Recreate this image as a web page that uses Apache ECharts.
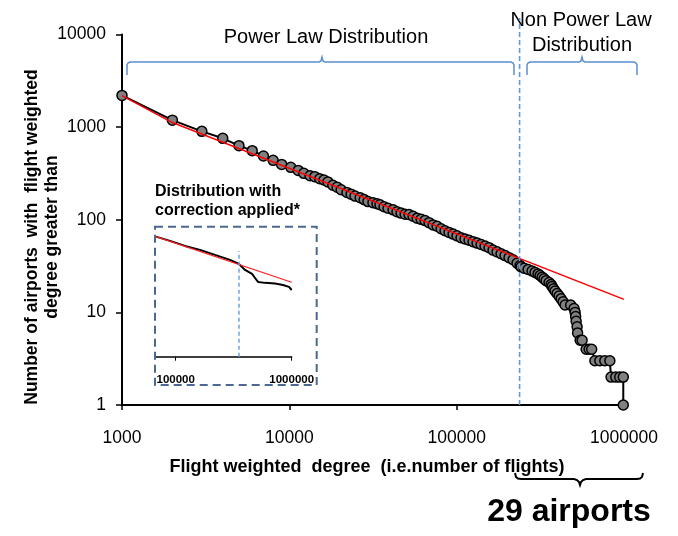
<!DOCTYPE html>
<html><head><meta charset="utf-8">
<script src="https://cdn.jsdelivr.net/npm/echarts@6/dist/echarts.min.js"></script>
<style>html,body{margin:0;padding:0;background:#fff}#c{width:678px;height:536px}</style>
</head><body><div id="c"></div>
<script>
// Main cumulative distribution: flight weighted degree vs number of airports with degree greater than it
const degree = [1000, 2000, 3000, 4000, 5000, 6000, 7000, 8000, 9000, 10200, 11300, 12200, 13300, 14200, 15200,
  16100, 17000, 18200, 19300, 20400, 22100, 23400, 24700, 26500, 28000,
  29500, 31600, 33400, 34800, 36800, 38900, 41700, 44000, 46500, 49200,
  51900, 54900, 58000, 61300, 64700, 68400, 72300, 76400, 80700, 85200,
  90100, 95200, 100500, 106200, 112200, 118600, 125300, 132400, 139900, 147800,
  156200, 165000, 174400, 184200, 194700, 205700, 217300, 229600, 239300,
  242700, 253000, 267300, 282300, 294200, 306600, 315100, 324000, 333000, 342300,
  356700, 366700, 371700, 379500, 387400, 398300, 409300, 420700, 432500, 444600,
  480000, 503000, 510500, 514000, 517600, 524500, 528000, 547000, 562000, 594000,
  619000, 641000, 670000, 717000, 768000, 823000, 837000, 893000, 943000, 990000, 990000];
const airports = [2200, 1190, 900, 757, 631, 557, 488, 438, 396, 368, 341, 317, 299, 292, 277,
  269, 256, 236, 225, 211, 197, 189, 180, 173, 165,
  157, 153, 149, 145, 138, 133, 128, 122, 118, 115,
  114, 109, 104, 101, 98, 93, 88, 85, 80, 76,
  73, 70, 67, 64, 62, 60, 58, 56, 54, 52,
  50, 47, 45, 43, 41, 39, 37, 34, 32,
  31, 30, 29, 28, 27, 26, 25, 24, 23, 22,
  21, 20, 19, 18, 17, 16, 15, 14, 13, 12,
  12, 11, 10, 9, 8, 7, 6, 5, 5, 4,
  4, 4, 3, 3, 3, 3, 2, 2, 2, 2, 1];
// Power-law fit line
const fitDegree = [1000, 2000, 1000000];
const fitAirports = [2190, 1120, 13.8];
// Boundary between power-law and non power-law parts
const cutoffDegree = 237700;

// Inset: distribution with correction applied
const insetDegree = [67600, 89300, 120300, 162000, 218000, 294000, 351000, 396000, 455000, 483000, 512000, 589000, 718000, 841000, 948000, 1000000];
const insetAirports = [697, 552, 420, 338, 257, 196, 157, 113, 91, 73, 59, 56, 54, 50, 45, 38];
const insetFitDegree = [67600, 1000000];
const insetFitAirports = [697, 58];
const insetCutoff = 351000;
const insetTicks = [100000, 1000000];

const FONT = 'Liberation Sans, Arial, sans-serif';
const pairs = (xs, ys) => xs.map((x, i) => [x, ys[i]]);

const chart = echarts.init(document.getElementById('c'), null, {renderer: 'canvas'});
chart.setOption({
  backgroundColor: '#fff',
  animation: false,
  grid: [
    {left: 122, top: 34.5, width: 502, height: 370.5, outerBoundsMode: 'none'},
    {left: 156, top: 230, width: 135.7, height: 126.7, outerBoundsMode: 'none'},
    {left: 122, top: 18, width: 502, height: 387, outerBoundsMode: 'none'}
  ],
  xAxis: [{
    type: 'log', logBase: 10, min: 1000, max: 1000000, gridIndex: 0,
    name: 'Flight weighted  degree  (i.e.number of flights)',
    nameLocation: 'middle', nameGap: 53,
    nameTextStyle: {fontFamily: FONT, fontWeight: 'bold', fontSize: 18, color: '#000', padding: [0, 12, 0, 0]},
    axisLine: {lineStyle: {color: '#000', width: 2}},
    axisTick: {inside: false, length: 5, lineStyle: {color: '#000', width: 1.5}},
    axisLabel: {fontFamily: FONT, fontSize: 17.5, color: '#000', margin: 24, formatter: v => String(Math.round(v))},
    splitLine: {show: false}, minorTick: {show: false}
  }, {
    type: 'log', logBase: 10, min: insetDegree[0], max: 1000000, gridIndex: 1,
    axisLine: {lineStyle: {color: '#000', width: 1.5}},
    axisTick: {customValues: insetTicks, length: 4, lineStyle: {color: '#000', width: 1}},
    axisLabel: {customValues: insetTicks, fontFamily: FONT, fontSize: 11.5, fontWeight: 'bold', color: '#000', margin: 17,
      formatter: v => String(Math.round(v))},
    splitLine: {show: false}
  }, {
    type: 'log', logBase: 10, min: 1000, max: 1000000, gridIndex: 2, show: false
  }],
  yAxis: [{
    type: 'log', logBase: 10, min: 1, max: 10000, gridIndex: 0,
    axisLine: {show: true, lineStyle: {color: '#000', width: 2}},
    axisTick: {show: true, inside: false, length: 6, lineStyle: {color: '#000', width: 1.5}},
    axisLabel: {fontFamily: FONT, fontSize: 17.5, color: '#000', margin: 16, formatter: v => String(Math.round(v))},
    splitLine: {show: false}
  }, {
    type: 'log', logBase: 10, min: 1, max: 1000, gridIndex: 1, show: false
  }, {
    type: 'value', min: 0, max: 1, gridIndex: 2, show: false
  }],
  series: [{
    type: 'line', xAxisIndex: 0, yAxisIndex: 0, z: 2,
    data: pairs(degree, airports),
    symbol: 'circle', symbolSize: 10, showSymbol: true, showAllSymbol: true, clip: false,
    lineStyle: {color: '#000', width: 2},
    itemStyle: {color: '#808080', borderColor: '#000', borderWidth: 1.5}
  }, {
    type: 'line', xAxisIndex: 0, yAxisIndex: 0, z: 3,
    data: pairs(fitDegree, fitAirports), symbol: 'none', clip: false,
    lineStyle: {color: '#ff0000', width: 1.5}
  }, {
    type: 'line', xAxisIndex: 2, yAxisIndex: 2, z: 4,
    data: [[cutoffDegree, 0], [cutoffDegree, 1]], symbol: 'none', clip: false,
    lineStyle: {color: '#5f9be0', width: 1.6, type: [5, 3]}
  }, {
    type: 'line', xAxisIndex: 1, yAxisIndex: 1, z: 2,
    data: pairs(insetDegree, insetAirports), symbol: 'none', clip: false,
    lineStyle: {color: '#000', width: 2}
  }, {
    type: 'line', xAxisIndex: 1, yAxisIndex: 1, z: 3,
    data: pairs(insetFitDegree, insetFitAirports), symbol: 'none', clip: false,
    lineStyle: {color: '#ff2020', width: 1.2},
    markLine: {
      silent: true, symbol: 'none', label: {show: false},
      lineStyle: {color: '#6fa3e0', width: 1.5, type: [4, 3]},
      data: [[{coord: [insetCutoff, 1]}, {coord: [insetCutoff, 320]}]]
    }
  }],
  graphic: [
    {type: 'text', x: 42, y: 237, rotation: Math.PI / 2, style: {
      text: 'Number of airports  with  flight weighted\ndegree greater than',
      font: 'bold 17.5px ' + FONT, fill: '#000', align: 'center', verticalAlign: 'middle', lineHeight: 20}},
    {type: 'text', x: 326, y: 37, style: {text: 'Power Law Distribution', font: '20px ' + FONT, fill: '#000', align: 'center', verticalAlign: 'middle'}},
    {type: 'text', x: 581, y: 20, style: {text: 'Non Power Law', font: '20px ' + FONT, fill: '#000', align: 'center', verticalAlign: 'middle'}},
    {type: 'text', x: 582, y: 45, style: {text: 'Distribution', font: '20px ' + FONT, fill: '#000', align: 'center', verticalAlign: 'middle'}},
    {type: 'polyline', shape: {points: [[127,75],[127,65],[128,63],[130,62],[319,62],[321,61],[322,57],[323,61],[325,62],[511,62],[513,63],[514,65],[514,75]]},
      style: {stroke: '#5b8fd0', lineWidth: 1.5, fill: null}},
    {type: 'polyline', shape: {points: [[527,75],[527,65],[528,63],[530,62],[579,62],[581,61],[582,57],[583,61],[585,62],[634,62],[636,63],[637,65],[637,75]]},
      style: {stroke: '#5b8fd0', lineWidth: 1.5, fill: null}},
    {type: 'text', x: 155, y: 201, style: {text: 'Distribution with\ncorrection applied*', font: 'bold 16px ' + FONT, fill: '#000', align: 'left', verticalAlign: 'middle', lineHeight: 18.5}},
    {type: 'rect', shape: {x: 155, y: 226.7, width: 161.7, height: 158.3},
      style: {stroke: '#4a6890', lineWidth: 2, fill: null, lineDash: [8, 5]}, z: 10},
    {type: 'polyline', shape: {points: [[515,473],[516,477],[518,478.5],[521,479],[574,479],[577,480],[579,482],[580,485],[581,482],[583,480],[586,479],[637,479],[640,478.5],[642,477],[643,473]]},
      style: {stroke: '#000', lineWidth: 2, fill: null}},
    {type: 'text', x: 569, y: 512, style: {text: '29 airports', font: 'bold 32px ' + FONT, fill: '#000', align: 'center', verticalAlign: 'middle'}}
  ]
});
</script></body></html>
